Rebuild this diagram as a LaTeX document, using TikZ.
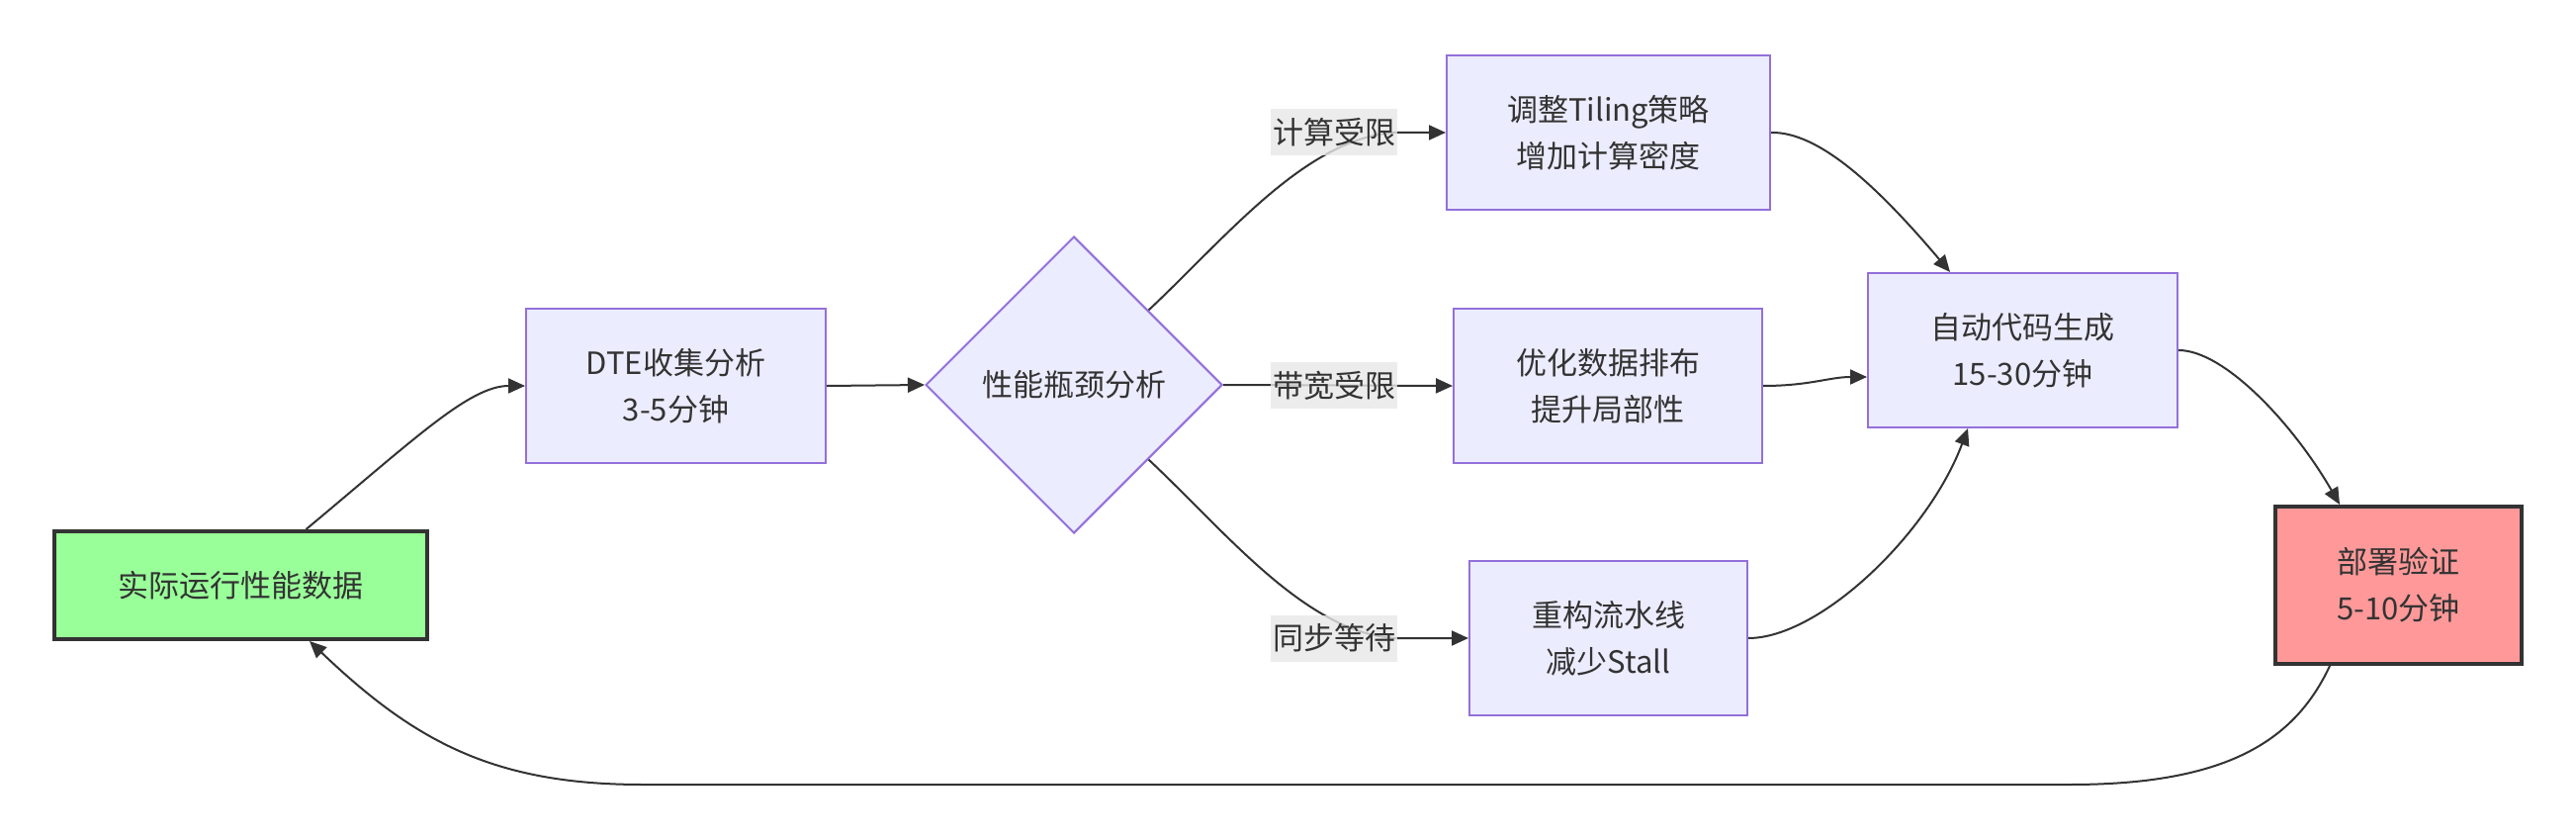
\documentclass[tikz,border=0pt]{standalone}
\usepackage{fontspec}
\setmainfont{Noto Sans CJK SC}
\usetikzlibrary{shapes.geometric,arrows.meta,calc}
\definecolor{boxfill}{HTML}{ECECFF}
\definecolor{boxline}{HTML}{9370DB}
\definecolor{txt}{HTML}{333333}
\definecolor{greenfill}{HTML}{99FF99}
\definecolor{redfill}{HTML}{FF9999}
\definecolor{lblfill}{HTML}{E8E8E8}
\tikzset{
  base/.style={inner sep=0pt, align=center, text=txt,
    font=\fontsize{15.5pt}{23.5pt}\selectfont},
  procbox/.style={base, rectangle, fill=boxfill, draw=boxline, line width=1pt,
    minimum height=78pt},
  hotbox/.style={base, rectangle, draw=txt, line width=2pt},
  decide/.style={base, diamond, aspect=1, fill=boxfill, draw=boxline, line width=1pt,
    minimum width=150pt, minimum height=150pt},
  edgelbl/.style={base, rectangle, fill=lblfill, fill opacity=0.8, text opacity=1,
    minimum width=64pt, minimum height=23.5pt},
  edge/.style={draw=txt, line width=1pt, -{Triangle[length=8.5pt,width=7.5pt]}}
}
\begin{document}
\begin{tikzpicture}[x=0.5pt,y=-0.5pt]
\fill[white] (0,0) rectangle (2605,849);
\useasboundingbox (0,0) rectangle (2605,849);

\node[hotbox, fill=greenfill, minimum width=188.5pt, minimum height=54.5pt] (A) at (243.5,591.5) {实际运行性能数据};
\node[procbox, minimum width=151.5pt] (B) at (683.5,390) {DTE收集分析\\3-5分钟};
\node[decide] (C) at (1086,389) {性能瓶颈分析};
\node[procbox, minimum width=163.5pt] (D) at (1626.5,134) {调整Tiling策略\\增加计算密度};
\node[procbox, minimum width=156pt] (E) at (1626,390) {优化数据排布\\提升局部性};
\node[procbox, minimum width=140.5pt] (F) at (1626.5,645) {重构流水线\\减少Stall};
\node[procbox, minimum width=156.5pt] (G) at (2045.5,354) {自动代码生成\\15-30分钟};
\node[hotbox, fill=redfill, minimum width=124.5pt, minimum height=79.5pt] (H) at (2425.5,591.5) {部署验证\\5-10分钟};

\draw[edge] ($(A.north)+(66,0)$) .. controls (420,443) and (475,390) .. (B.west);
\draw[edge] (B.east) -- (C.west);
\draw[edge] (C.north east) .. controls (1240,240) and (1320,140) .. (1410,134) -- (D.west);
\draw[edge] (C.east) -- (E.west);
\draw[edge] (C.south east) .. controls (1240,538) and (1320,639) .. (1410,645) -- (F.west);
\draw[edge] (D.east) .. controls (1840,133) and (1900,190) .. ($(G.north)+(-73.5,0)$);
\draw[edge] (E.east) .. controls (1830,390) and (1850,381) .. ($(G.west)+(0,27)$);
\draw[edge] (F.east) .. controls (1840,645) and (1950,540) .. ($(G.south)+(-55.5,0)$);
\draw[edge] (G.east) .. controls (2250,354) and (2320,430) .. ($(H.north)+(-59.5,0)$);
\draw[edge] ($(H.south)+(-69.5,0)$) .. controls (2320,750) and (2250,793) .. (2093,793)
  -- (650,793) .. controls (500,793) and (420,750) .. ($(A.south)+(69.5,0)$);

\node[edgelbl] (L1) at (1349,134) {计算受限};
\node[edgelbl] (L2) at (1349,390) {带宽受限};
\node[edgelbl] (L3) at (1349,645) {同步等待};
\end{tikzpicture}
\end{document}
